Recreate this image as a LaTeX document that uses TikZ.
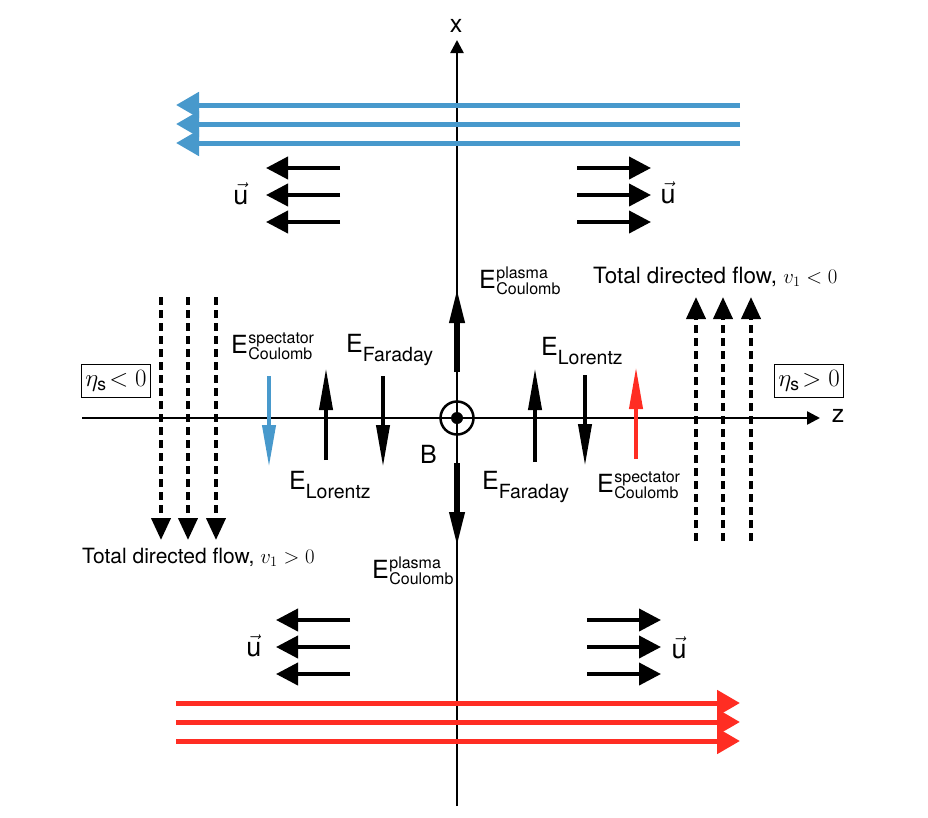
\documentclass[tikz,border=0pt]{standalone}
\usepackage[no-math]{fontspec}
\usepackage{amsmath}
\setmainfont{TeX Gyre Heros}
\usetikzlibrary{arrows.meta}
\definecolor{fblue}{RGB}{72,153,204}
\definecolor{fred}{RGB}{255,45,35}
\newcommand\subsz{\fontsize{19.5}{20}\selectfont}
\newcommand\stsz{\fontsize{16}{17}\selectfont}
\newcommand\Esub[1]{E\raisebox{-9.5pt}{\subsz #1}}
\newcommand\Esubsup[2]{E\hspace{0.5pt}\raisebox{-6.5pt}{\stsz\makebox[0pt][l]{\raisebox{16.5pt}{#1}}#2}}
\begin{document}
\begin{tikzpicture}[x=1pt,y=-1pt,
  flowarrow/.style={line width=5pt,-{Triangle[length=23pt,width=25pt]}},
  uarrow/.style={line width=4pt,-{Triangle[length=22pt,width=22pt]}},
  farrow/.style={line width=4pt,-{Triangle[length=42pt,width=13pt]}},
  parrow/.style={line width=6.5pt,-{Triangle[length=36pt,width=14pt]}},
  darrow/.style={line width=4pt,dash pattern=on 8pt off 5pt,-{Triangle[length=22pt,width=19pt]}},
  axisline/.style={line width=2.5pt,-{Triangle[length=13pt,width=13pt]}},
  elabel/.style={font=\fontsize{25}{28}\selectfont,inner sep=0pt},
  flowlabel/.style={font=\fontsize{21}{24}\selectfont,inner sep=0pt},
  ulabel/.style={font=\fontsize{27}{30}\selectfont,inner sep=0pt},
  axlabel/.style={font=\fontsize{25}{28}\selectfont,inner sep=0pt},
  etabox/.style={draw,line width=1.1pt,font=\fontsize{25}{28}\selectfont,inner sep=2pt,minimum width=69pt,minimum height=33pt}
]
\useasboundingbox (0,0) rectangle (928,817);

% axes
\coordinate (xbot) at (457,806);
\coordinate (xtop) at (457,40);
\coordinate (zl) at (82,418);
\coordinate (zr) at (820,418);
\draw[axisline] (xbot) -- (xtop);
\draw[axisline] (zl) -- (zr);
\node[axlabel] (xl) at (456,26) {x};
\node[axlabel] (zlab) at (838,416) {z};

% B field symbol
\coordinate (O) at (457,418);
\draw[line width=2.5pt] (O) circle (16.5pt);
\fill (O) circle (6pt);
\node[elabel,anchor=base west] (B) at (420,463) {B};

% big flow arrows
\foreach \yy/\nm in {105/a,124/b,143/c}{
  \coordinate (bs\nm) at (740,\yy);
  \coordinate (be\nm) at (176,\yy);
  \draw[flowarrow,fblue] (bs\nm) -- (be\nm);
  \coordinate (rs\nm) at (176,\yy+598);
  \coordinate (re\nm) at (740,\yy+598);
  \draw[flowarrow,fred] (rs\nm) -- (re\nm);
}

% u arrows
\foreach \yy/\nm in {168/a,195/b,222/c}{
  \coordinate (tl\nm) at (340,\yy); \coordinate (tlt\nm) at (266,\yy);
  \draw[uarrow] (tl\nm) -- (tlt\nm);
  \coordinate (tr\nm) at (577,\yy); \coordinate (trt\nm) at (651,\yy);
  \draw[uarrow] (tr\nm) -- (trt\nm);
}
\foreach \yy/\nm in {620/a,647/b,674/c}{
  \coordinate (bl\nm) at (350,\yy); \coordinate (blt\nm) at (276,\yy);
  \draw[uarrow] (bl\nm) -- (blt\nm);
  \coordinate (br\nm) at (587,\yy); \coordinate (brt\nm) at (661,\yy);
  \draw[uarrow] (br\nm) -- (brt\nm);
}
\node[ulabel] (u1) at (241,194) {$\vec{\text{u}}$};
\node[ulabel] (u2) at (668,193) {$\vec{\text{u}}$};
\node[ulabel] (u3) at (254,646) {$\vec{\text{u}}$};
\node[ulabel] (u4) at (679,648) {$\vec{\text{u}}$};

% plasma Coulomb arrows on x axis
\coordinate (pu0) at (457,372); \coordinate (pu1) at (457,287);
\draw[parrow] (pu0) -- (pu1);
\coordinate (pd0) at (457,463); \coordinate (pd1) at (457,548);
\draw[parrow] (pd0) -- (pd1);
\node[elabel,anchor=base west] (Ept) at (479,288) {\Esubsup{plasma}{Coulomb}};
\node[elabel,anchor=base west] (Epb) at (372,578) {\Esubsup{plasma}{Coulomb}};

% field arrows, left side
\coordinate (sl0) at (269,376); \coordinate (sl1) at (269,467);
\draw[farrow,fblue] (sl0) -- (sl1);
\coordinate (ll0) at (326,460); \coordinate (ll1) at (326,368);
\draw[farrow] (ll0) -- (ll1);
\coordinate (fl0) at (383,376); \coordinate (fl1) at (383,467);
\draw[farrow] (fl0) -- (fl1);
\node[elabel,anchor=base west] (Esl) at (231,353) {\Esubsup{spectator}{Coulomb}};
\node[elabel,anchor=base west] (Efl) at (346,352) {\Esub{Faraday}};
\node[elabel,anchor=base west] (Ell) at (289,489) {\Esub{Lorentz}};

% field arrows, right side
\coordinate (lr0) at (535,462); \coordinate (lr1) at (535,368);
\draw[farrow] (lr0) -- (lr1);
\coordinate (fr0) at (585,375); \coordinate (fr1) at (585,466);
\draw[farrow] (fr0) -- (fr1);
\coordinate (sr0) at (636,459); \coordinate (sr1) at (636,367);
\draw[farrow,fred] (sr0) -- (sr1);
\node[elabel,anchor=base west] (Elr) at (541,355) {\Esub{Lorentz}};
\node[elabel,anchor=base west] (Efr) at (482,489) {\Esub{Faraday}};
\node[elabel,anchor=base west] (Esr) at (597,492) {\Esubsup{spectator}{Coulomb}};

% directed flow dashed arrows
\foreach \xx/\nm in {161/a,188/b,216/c}{
  \coordinate (dl\nm) at (\xx,297); \coordinate (dlt\nm) at (\xx,540);
  \draw[darrow] (dl\nm) -- (dlt\nm);
}
\foreach \xx/\nm in {696/a,723/b,751/c}{
  \coordinate (dr\nm) at (\xx,541); \coordinate (drt\nm) at (\xx,297);
  \draw[darrow] (dr\nm) -- (drt\nm);
}
\node[flowlabel,anchor=base west,font=\fontsize{22.4}{26}\selectfont] (tfr) at (593,283) {Total directed flow, $v_1<0$};
\node[flowlabel,anchor=base west] (tfl) at (82,563) {Total directed flow, $v_1>0$};

% eta boxes
\node[etabox] (etal) at (116,381) {$\eta_{\text{s}}\!<0$};
\node[etabox] (etar) at (809,381) {$\eta_{\text{s}}\!>0$};
\end{tikzpicture}
\end{document}
